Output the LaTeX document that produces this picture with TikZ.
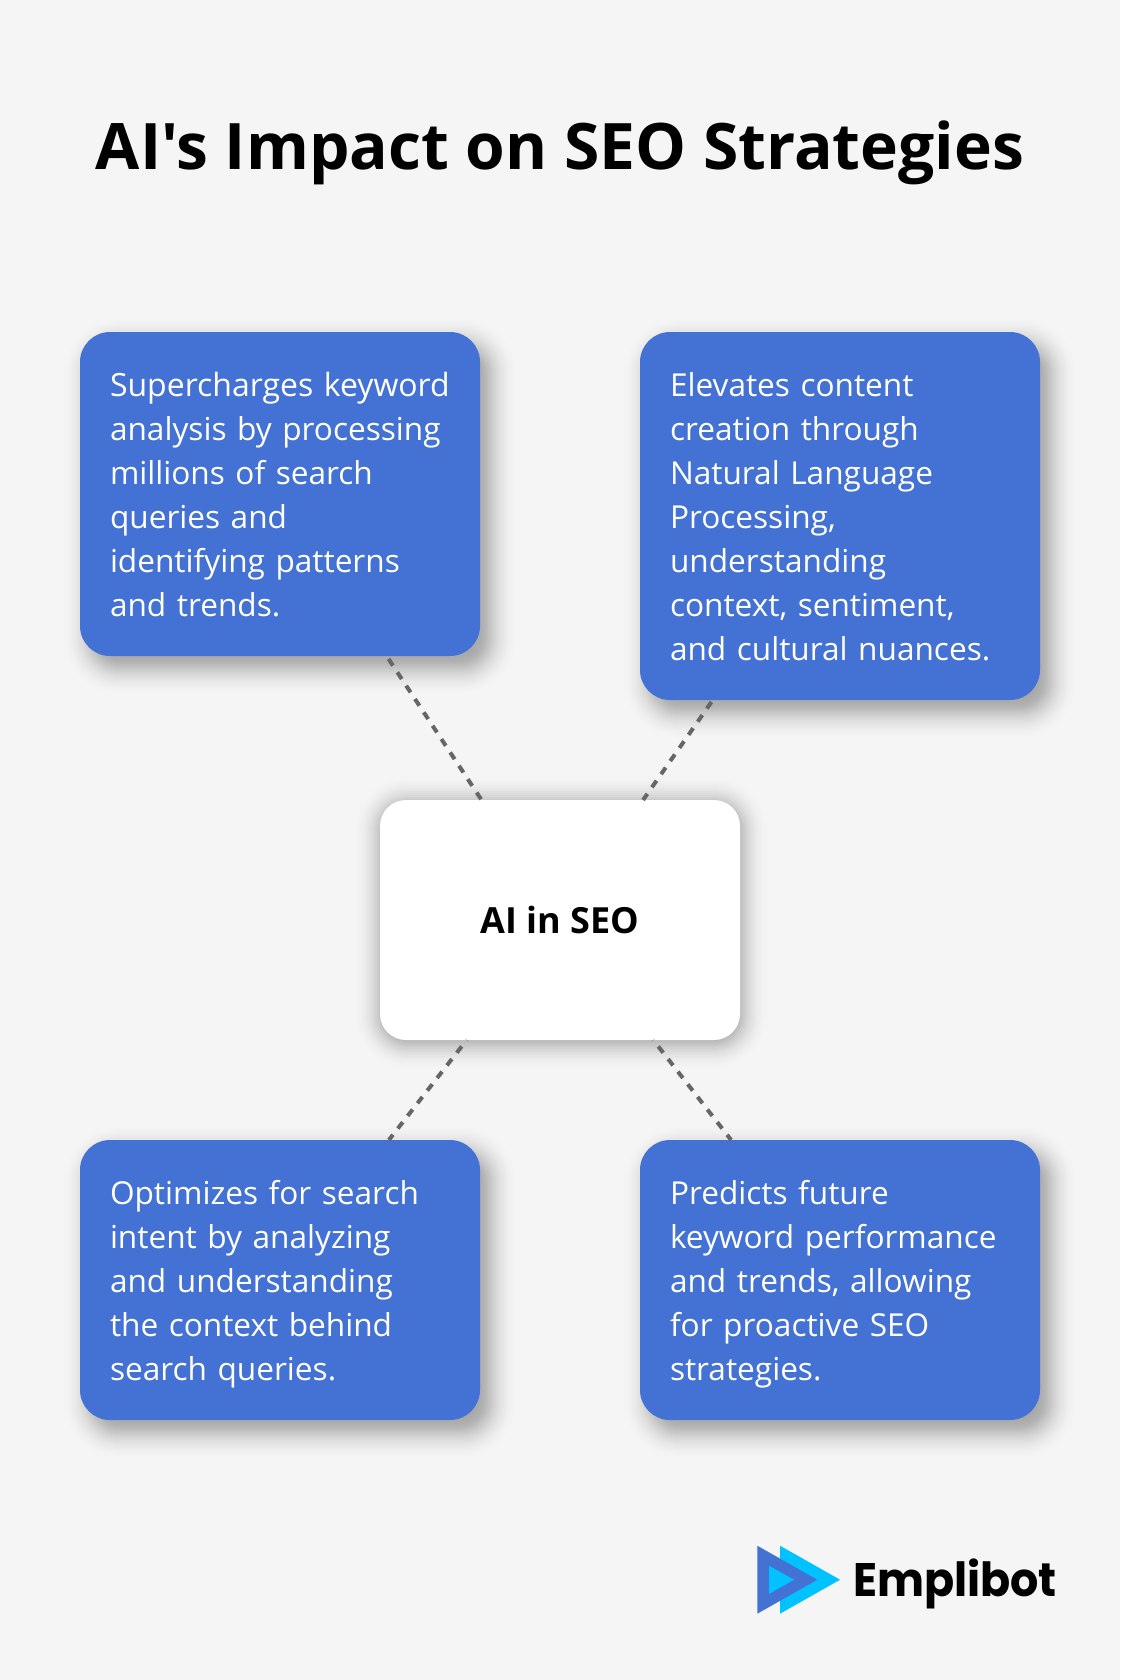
\documentclass[tikz,border=0pt]{standalone}
\usepackage{fontspec}
\setmainfont{Open Sans}
\newfontfamily\plainfont{Open Sans}
\newfontfamily\logofont[FakeStretch=0.945]{Poppins}
\definecolor{pagebg}{HTML}{F5F5F5}
\definecolor{cardblue}{HTML}{4472D4}
\definecolor{logocyan}{HTML}{00C2FF}
\definecolor{linegrey}{HTML}{666666}
\pgfdeclarelayer{back}
\pgfsetlayers{back,main}
% soft shadow: x1 y1 x2 y2 radius total-opacity
\newcommand{\softshadow}[6]{%
  \foreach \d in {-28,-26,...,28}{%
    \pgfmathsetmacro{\layeropacity}{#6/15*(1-abs(\d)/30)}%
    \fill[black,opacity=\layeropacity,rounded corners=#5+\d]
      (#1-\d,#2-\d) rectangle (#3+\d,#4+\d);
  }%
}
\tikzset{
  x=1pt,y=-1pt,
  every node/.style={inner sep=0pt,outer sep=0pt},
  card/.style={anchor=north west,fill=cardblue,text=white,rounded corners=30pt,
    text width=340pt,inner xsep=30pt,inner ysep=0pt,align=left,
    font=\fontsize{31.6}{44}\selectfont,text height=64pt},
  hub/.style={fill=white,text=black,rounded corners=26pt,minimum width=360pt,
    font=\fontsize{36}{44}\selectfont\bfseries,text height=133pt,text depth=107pt},
  titletext/.style={anchor=base,text=black,font=\fontsize{64.1}{76}\selectfont\plainfont\bfseries},
  logotext/.style={anchor=base west,text=black,font=\fontsize{47}{50}\selectfont\logofont\bfseries},
  link/.style={draw=linegrey,line width=4pt,dash pattern=on 8pt off 8pt},
}
\begin{document}
\begin{tikzpicture}
\useasboundingbox (0,0) rectangle (1120,1680);
\begin{pgfonlayer}{back}
  \fill[pagebg] (0,0) rectangle (1120,1680);
  \softshadow{90}{344}{490}{668}{30}{0.38}
  \softshadow{650}{344}{1050}{712}{30}{0.38}
  \softshadow{90}{1152}{490}{1432}{30}{0.38}
  \softshadow{650}{1152}{1050}{1432}{30}{0.38}
  \softshadow{381}{803}{741}{1043}{28}{0.42}
\end{pgfonlayer}

\node[titletext] (title) at (560,170) {AI's Impact on SEO Strategies};

\node[card,text depth=260pt] (kw) at (80,332) {{\fontsize{32}{44}\selectfont Supercharges keyword}\\analysis by processing\\millions of search\\queries and\\identifying patterns\\and trends.};
\node[card,text depth=304pt] (nlp) at (640,332) {Elevates content\\creation through\\Natural Language\\Processing,\\understanding\\context, sentiment,\\and cultural nuances.};
\node[card,text depth=216pt] (intent) at (80,1140) {Optimizes for search\\intent by analyzing\\and understanding\\the context behind\\search queries.};
\node[card,text depth=216pt] (pred) at (640,1140) {Predicts future\\keyword performance\\and trends, allowing\\for proactive SEO\\strategies.};
\node[hub] (ai) at (560,920) {AI in SEO};

\draw[link,dash phase=12.5pt] (kw) -- (ai);
\draw[link,dash phase=13.6pt] (nlp) -- (ai);
\draw[link,dash phase=1.4pt] (intent) -- (ai);
\draw[link,dash phase=1.4pt] (pred) -- (ai);

\fill[logocyan] (780,1545.7) -- (840,1579.7) -- (780,1613.7) -- cycle;
\fill[cardblue] (757.3,1545.7) -- (817.3,1579.7) -- (757.3,1613.7) -- cycle;
\fill[logocyan] (769,1565.7) -- (794,1579.7) -- (769,1594) -- cycle;
\node[logotext] (logo) at (853,1596) {Emplibot};
\end{tikzpicture}
\end{document}
